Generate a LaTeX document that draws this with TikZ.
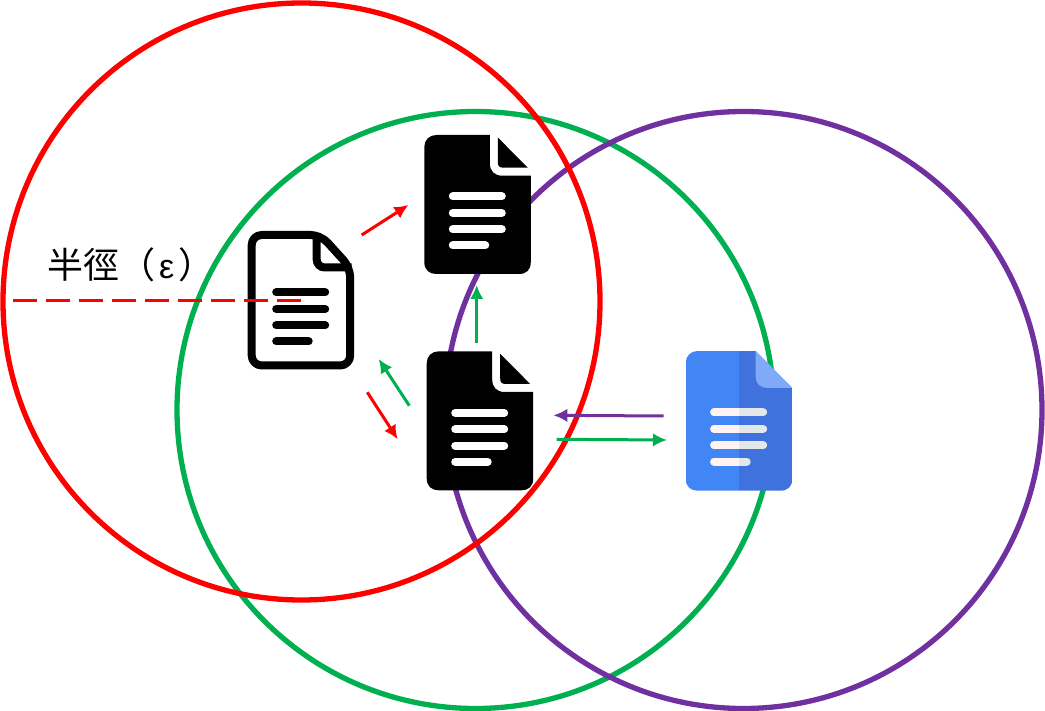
\documentclass[tikz,border=0pt]{standalone}
\usepackage{fontspec}
\usepackage{xcolor}
\newfontfamily\cjkfont{Noto Sans CJK TC}
\newfontfamily\epsfont{Liberation Sans}
\definecolor{ringred}{HTML}{FF0000}
\definecolor{ringgreen}{HTML}{00B050}
\definecolor{ringpurple}{HTML}{7030A0}
\definecolor{docblue}{HTML}{4285F4}
\definecolor{docdark}{HTML}{3F72DD}
\definecolor{doclight}{HTML}{80AAF9}
\definecolor{docleft}{HTML}{FFF4F2}
\definecolor{docright}{HTML}{E4E7E9}
\usetikzlibrary{calc}
\usetikzlibrary{arrows.meta}
\tikzset{
	ring/.style={line width=5.3pt},
	link/.style={-{Latex[length=14pt,width=13.5pt]},line width=3pt},
	textline/.style={line width=8pt,line cap=round},
	docsolid/.pic={
		\fill[black] (65.5,0) -- (65.5,28) .. controls (65.5,36) and (70,40.7) .. (78,40.7) -- (106.5,40.7) -- (106.5,127) .. controls (106.5,135) and (102,139) .. (94.5,139) -- (12,139) .. controls (5,139) and (0,135) .. (0,127) -- (0,12) .. controls (0,5) and (5,0) .. (12,0) -- cycle;
		\fill[black] (73.5,2.5) -- (103.5,32.7) -- (79,32.7) .. controls (75,32.7) and (73.5,31) .. (73.5,27) -- cycle;
		\foreach \y in {61.5,78,94.3} \draw[white,textline] (28.5,\y) -- (77.5,\y);
		\draw[white,textline] (28.5,110.5) -- (61,110.5);
	},
	docoutline/.pic={
		\fill[white] (0,0) -- (72,0) -- (106.5,35) -- (106.5,138.5) -- (0,138.5) -- cycle;
		\draw[black,line width=8pt,rounded corners=10,line join=round] (73,4) -- (4,4) -- (4,134.5) -- (102.5,134.5) -- (102.5,36.5) -- cycle;
		\draw[black,line width=8pt,rounded corners=8] (69,2) -- (69,36.5) -- (104,36.5);
		\foreach \y in {61.5,78,94.3} \draw[black,textline] (28.5,\y) -- (77.5,\y);
		\draw[black,textline] (28.5,110.5) -- (61,110.5);
	},
	docgoogle/.pic={
		\begin{scope}
			\clip (70,0) -- (106.6,37) -- (106.6,127.7) .. controls (106.6,135.7) and (102,139.7) .. (94.6,139.7) -- (12,139.7) .. controls (5,139.7) and (0,135.7) .. (0,127.7) -- (0,12) .. controls (0,5) and (5,0) .. (12,0) -- cycle;
			\fill[docblue] (0,0) rectangle (53.3,139.7);
			\fill[docdark] (53.3,0) rectangle (106.6,139.7);
		\end{scope}
		\fill[doclight] (70,0) -- (106.6,37) -- (82,37) .. controls (75,37) and (70,33) .. (70,26) -- cycle;
		\foreach \y/\e in {61.5/77.5,78/77.5,94.3/77.5,110.5/61} {
			\draw[docright,textline] (28.5,\y) -- (\e,\y);
			\draw[docleft,textline] (28.5,\y) -- (50,\y);
			\draw[docleft,line width=8pt] (50,\y) -- (53.3,\y);
		}
	},
}
\begin{document}
\begin{tikzpicture}[x=1pt,y=-1pt]
	\useasboundingbox (0,0) rectangle (1045,711);
	\coordinate (red centre) at (301.5,301.5);
	\coordinate (green centre) at (475.5,410);
	\coordinate (purple centre) at (743.5,410);
	\draw[ring,ringgreen] (green centre) circle (298.5);
	\draw[ring,ringpurple] (purple centre) circle (298.5);
	\draw[ring,ringred] (red centre) circle (298.5);
	% documents
	\pic (query) at (247.7,231) {docoutline};
	\pic (upper) at (424.3,135) {docsolid};
	\pic (lower) at (426.7,351.3) {docsolid};
	\pic (google) at (685.7,351) {docgoogle};
	% radius
	\coordinate (radius start) at (13,301);
	\coordinate (radius end) at (303,301);
	\draw[ringred,line width=3pt,dash pattern=on 24pt off 9pt] (radius start) -- (radius end);
	\node[anchor=west,inner sep=0pt,font=\cjkfont\fontsize{36}{36}\selectfont] (radius label) at (47,265) {半徑（\hspace{4pt}{\epsfont\fontsize{34}{34}\selectfont ε}\hspace{4pt}）};
	% arrows
	\coordinate (a1) at (361.7,235);
	\coordinate (a2) at (408.5,205);
	\coordinate (b1) at (476.7,342.7);
	\coordinate (b2) at (476.7,285);
	\coordinate (c1) at (409.3,405.7);
	\coordinate (c2) at (378.7,359);
	\coordinate (d1) at (367.3,392.3);
	\coordinate (d2) at (397.7,439.3);
	\coordinate (e1) at (663.7,416);
	\coordinate (e2) at (553.3,415.3);
	\coordinate (f1) at (556.7,439.3);
	\coordinate (f2) at (667,440);
	\draw[link,ringred] (a1) -- (a2);
	\draw[link,ringgreen] (b1) -- (b2);
	\draw[link,ringgreen] (c1) -- (c2);
	\draw[link,ringred] (d1) -- (d2);
	\draw[link,ringpurple] (e1) -- (e2);
	\draw[link,ringgreen] (f1) -- (f2);
\end{tikzpicture}
\end{document}
